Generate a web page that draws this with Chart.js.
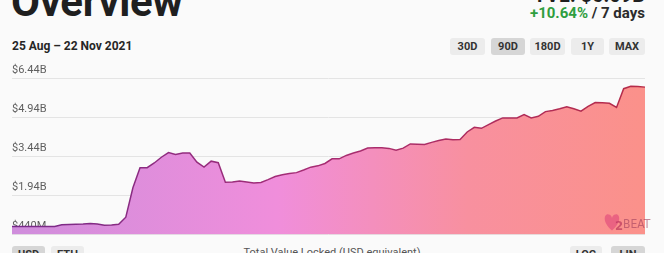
<!DOCTYPE html>
<html>
<head>
<meta charset="utf-8">
<script src="https://cdn.jsdelivr.net/npm/chart.js@4/dist/chart.umd.min.js"></script>
<style>
  html, body { margin: 0; padding: 0; }
  body {
    width: 664px; height: 253px; overflow: hidden; position: relative;
    background: #fafafa; font-family: Roboto, "Noto Sans", sans-serif; color: #222;
  }
  .abs { position: absolute; white-space: nowrap; }
  #title { left: 11px; top: -19px; font-size: 42px; font-weight: 700; line-height: 1; color: #1f1f1f; letter-spacing: -0.3px; }
  #tvl { right: 19px; top: -15px; font-size: 20px; font-weight: 700; line-height: 1; color: #1f1f1f; }
  #change { right: 19px; top: 6px; font-size: 15px; font-weight: 700; line-height: 1; color: #2b2b2b; }
  #change .up { color: #2f9e3f; }
  #range { left: 12px; top: 40px; font-size: 12px; font-weight: 700; line-height: 1; color: #262626; }
  .btn {
    position: absolute; height: 17px; line-height: 17px; font-size: 11px; font-weight: 700;
    color: #333; background: #ececec; border-radius: 3px; text-align: center;
  }
  .btn.on { background: #d6d6d6; }
  #caption { left: 0; width: 664px; text-align: center; top: 247px; font-size: 11px; color: #555; line-height: 1; }
  #wrap { position: absolute; left: 0; top: 60px; width: 664px; height: 181px; }
</style>
</head>
<body>
<div id="title" class="abs">Overview</div>
<div id="tvl" class="abs"></div>
<div id="change" class="abs"><span class="up">+10.64%</span> / 7 days</div>
<div id="range" class="abs">25 Aug – 22 Nov 2021</div>

<div class="btn" style="left:450px;top:38px;width:35px;">30D</div>
<div class="btn on" style="left:491px;top:38px;width:34px;">90D</div>
<div class="btn" style="left:530px;top:38px;width:35px;">180D</div>
<div class="btn" style="left:571px;top:38px;width:33px;">1Y</div>
<div class="btn" style="left:609px;top:38px;width:36px;">MAX</div>

<div class="btn on" style="left:12px;top:246px;width:33px;">USD</div>
<div class="btn" style="left:51px;top:246px;width:33px;">ETH</div>
<div id="caption" class="abs">Total Value Locked (USD equivalent)</div>
<div class="btn" style="left:570px;top:246px;width:32px;">LOG</div>
<div class="btn on" style="left:611px;top:246px;width:34px;">LIN</div>

<div id="wrap"><canvas id="chart"></canvas></div>

<script>
// Total value locked, billions of USD, one value per day (25 Aug – 22 Nov 2021)
const startDate = new Date(2021, 7, 25);
const dayCount = 90;

const tvlBillions = [
  0.74, 0.74, 0.74, 0.74, 0.74, 0.74, 0.74, 0.81, 0.82, 0.83,
  0.84, 0.86, 0.84, 0.79, 0.80, 0.83, 1.10, 2.23, 3.00, 3.00,
  3.18, 3.40, 3.58, 3.51, 3.56, 3.56, 3.21, 3.02, 3.25, 3.19,
  2.44, 2.45, 2.49, 2.45, 2.41, 2.43, 2.54, 2.66, 2.73, 2.78,
  2.81, 2.91, 3.02, 3.07, 3.16, 3.34, 3.34, 3.47, 3.56, 3.64,
  3.75, 3.76, 3.76, 3.74, 3.67, 3.75, 3.91, 3.90, 3.89, 3.97,
  4.04, 4.10, 4.07, 4.08, 4.37, 4.55, 4.51, 4.65, 4.79, 4.91,
  4.91, 4.91, 5.04, 4.91, 4.97, 5.15, 5.19, 5.26, 5.34, 5.26,
  5.17, 5.35, 5.50, 5.49, 5.47, 5.31, 6.03, 6.12, 6.11, 6.09
];

const tickValues = [0.44, 1.94, 3.44, 4.94, 6.44];
const tickLabels = ['$440M', '$1.94B', '$3.44B', '$4.94B', '$6.44B'];

const months = ['Jan','Feb','Mar','Apr','May','Jun','Jul','Aug','Sep','Oct','Nov','Dec'];
const dayLabels = [];
for (let i = 0; i < dayCount; i++) {
  const d = new Date(startDate.getTime());
  d.setDate(d.getDate() + i);
  dayLabels.push(d.getDate() + ' ' + months[d.getMonth()]);
}

document.getElementById('tvl').textContent =
  'TVL: $' + tvlBillions[tvlBillions.length - 1].toFixed(2) + 'B';

function horizontalGradient(ctx, area, stops) {
  const g = ctx.createLinearGradient(area.left, 0, area.right, 0);
  stops.forEach(([p, c]) => g.addColorStop(p, c));
  return g;
}

const fillStops = [[0, '#cf8ddc'], [0.42, '#f08edb'], [0.72, '#f8909f'], [1, '#fb918a']];
const lineStops = [[0, '#762a8a'], [0.45, '#a52d76'], [1, '#b62c48']];

// Small "L2BEAT" mark in the lower right corner of the plot
const brandMark = {
  id: 'brandMark',
  afterDatasetsDraw(chart) {
    const { ctx, chartArea: a } = chart;
    const x = a.right - 41, y = a.bottom - 21;
    ctx.save();
    ctx.globalAlpha = 0.6;
    ctx.fillStyle = '#e0457a';
    ctx.beginPath();
    ctx.moveTo(x + 8, y + 17);
    ctx.bezierCurveTo(x - 2, y + 9, x, y, x + 4.5, y + 1);
    ctx.bezierCurveTo(x + 6.5, y + 1, x + 8, y + 3, x + 8, y + 5);
    ctx.bezierCurveTo(x + 8, y + 3, x + 9.5, y + 1, x + 11.5, y + 1);
    ctx.bezierCurveTo(x + 16, y, x + 18, y + 9, x + 8, y + 17);
    ctx.fill();
    ctx.fillStyle = '#b02a55';
    ctx.font = '700 13px "Liberation Sans Narrow", "DejaVu Sans Condensed", sans-serif';
    ctx.textBaseline = 'alphabetic';
    ctx.fillText('2', x + 11, y + 17);
    ctx.font = '12px "Liberation Sans Narrow", "DejaVu Sans Condensed", sans-serif';
    ctx.fillStyle = '#a0405e';
    ctx.fillText('BEAT', x + 19, y + 15);
    ctx.restore();
  }
};

new Chart(document.getElementById('chart'), {
  type: 'line',
  data: {
    labels: dayLabels,
    datasets: [{
      data: tvlBillions,
      borderWidth: 1.5,
      tension: 0,
      pointRadius: 0,
      fill: 'start',
      borderColor: (c) => {
        const a = c.chart.chartArea;
        return a ? horizontalGradient(c.chart.ctx, a, lineStops) : '#a52d76';
      },
      backgroundColor: (c) => {
        const a = c.chart.chartArea;
        return a ? horizontalGradient(c.chart.ctx, a, fillStops) : '#f08edb';
      }
    }]
  },
  plugins: [brandMark],
  options: {
    responsive: true,
    maintainAspectRatio: false,
    animation: false,
    layout: { padding: { left: 12, right: 19, top: 18, bottom: 5 } },
    plugins: { legend: { display: false }, tooltip: { enabled: false } },
    scales: {
      x: { display: false },
      y: {
        min: tickValues[0],
        max: tickValues[tickValues.length - 1],
        afterBuildTicks: (axis) => { axis.ticks = tickValues.map(v => ({ value: v })); },
        border: { display: false },
        grid: { color: '#e4e4e4', lineWidth: 1, drawTicks: false },
        ticks: {
          mirror: true,
          padding: 0,
          labelOffset: -8,
          color: '#5e5e5e',
          font: { family: 'Roboto', size: 11 },
          callback: (v, i) => tickLabels[i]
        }
      }
    }
  }
});
</script>
</body>
</html>
